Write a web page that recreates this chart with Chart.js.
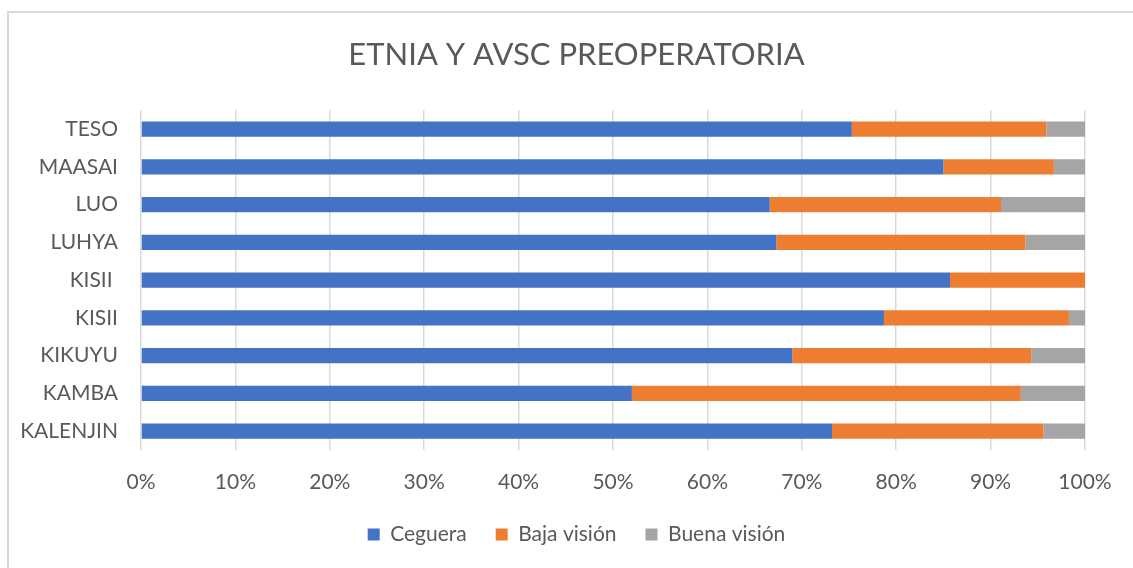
<!DOCTYPE html>
<html>
<head>
<meta charset="utf-8">
<script src="https://cdn.jsdelivr.net/npm/chart.js@4"></script>
<style>
    html, body { margin: 0; padding: 0; background: #fff; overflow: hidden; }
    #frame { position: absolute; left: 7px; top: 11px; width: 1200px; height: 700px;
             border-left: 2px solid #d9d9d9; border-top: 2px solid #d9d9d9; }
    #wrap { position: absolute; left: 0; top: 0; width: 1133px; height: 568px; }
</style>
</head>
<body>
<div id="frame"></div>
<div id="wrap"><canvas id="chart-etnia" width="1133" height="568"></canvas></div>
<script>
// categories, top to bottom (the upper KISII carries a trailing space in the source)
const etnias = ['TESO', 'MAASAI', 'LUO', 'LUHYA', 'KISII ', 'KISII', 'KIKUYU', 'KAMBA', 'KALENJIN'];

// percent of each group
const ceguera     = [75.3, 85.0, 66.6, 67.3, 85.7, 78.7, 69.0, 52.0, 73.2];
const bajaVision  = [20.6, 11.7, 24.5, 26.4, 14.3, 19.6, 25.3, 41.2, 22.4];
const buenaVision = [ 4.1,  3.3,  8.9,  6.3,  0.0,  1.7,  5.7,  6.8,  4.4];

const pctTicks = [0, 10, 20, 30, 40, 50, 60, 70, 80, 90, 100];

const textColor = '#595959';
const font = 'Lato, "Open Sans", sans-serif';

function serie(label, data, color) {
    return { label, data, backgroundColor: color, borderWidth: 0,
             barPercentage: 0.4, categoryPercentage: 1 };
}

new Chart(document.getElementById('chart-etnia'), {
    type: 'bar',
    data: {
        labels: etnias,
        datasets: [
            serie('Ceguera', ceguera, '#4472C4'),
            serie('Baja visión', bajaVision, '#ED7D31'),
            serie('Buena visión', buenaVision, '#A5A5A5')
        ]
    },
    options: {
        indexAxis: 'y',
        responsive: false,
        animation: false,
        layout: { padding: { left: 20, right: 0, top: 0, bottom: 13 } },
        plugins: {
            title: {
                display: true,
                text: 'ETNIA Y AVSC PREOPERATORIA',
                color: textColor,
                font: { family: font, size: 31, weight: 'normal' },
                padding: { top: 36, bottom: 37 }
            },
            legend: {
                position: 'bottom',
                labels: {
                    color: textColor,
                    font: { family: font, size: 21 },
                    boxWidth: 12, boxHeight: 12,
                    padding: 29
                }
            },
            tooltip: { enabled: false }
        },
        scales: {
            x: {
                stacked: true,
                min: 0, max: 100,
                afterBuildTicks: s => { s.ticks = pctTicks.map(v => ({ value: v })); },
                afterFit: s => { s.height = 45; s.paddingRight = 48; },
                ticks: { color: textColor, font: { family: font, size: 21 }, padding: 20,
                         callback: v => v + '%' },
                grid: { color: '#d9d9d9', lineWidth: 1.5, drawTicks: false },
                border: { display: false }
            },
            y: {
                stacked: true,
                afterFit: s => { s.width = 121; },
                ticks: { color: textColor, font: { family: font, size: 21 }, padding: 23 },
                grid: { display: false, drawTicks: false },
                border: { display: false }
            }
        }
    }
});
</script>
</body>
</html>
